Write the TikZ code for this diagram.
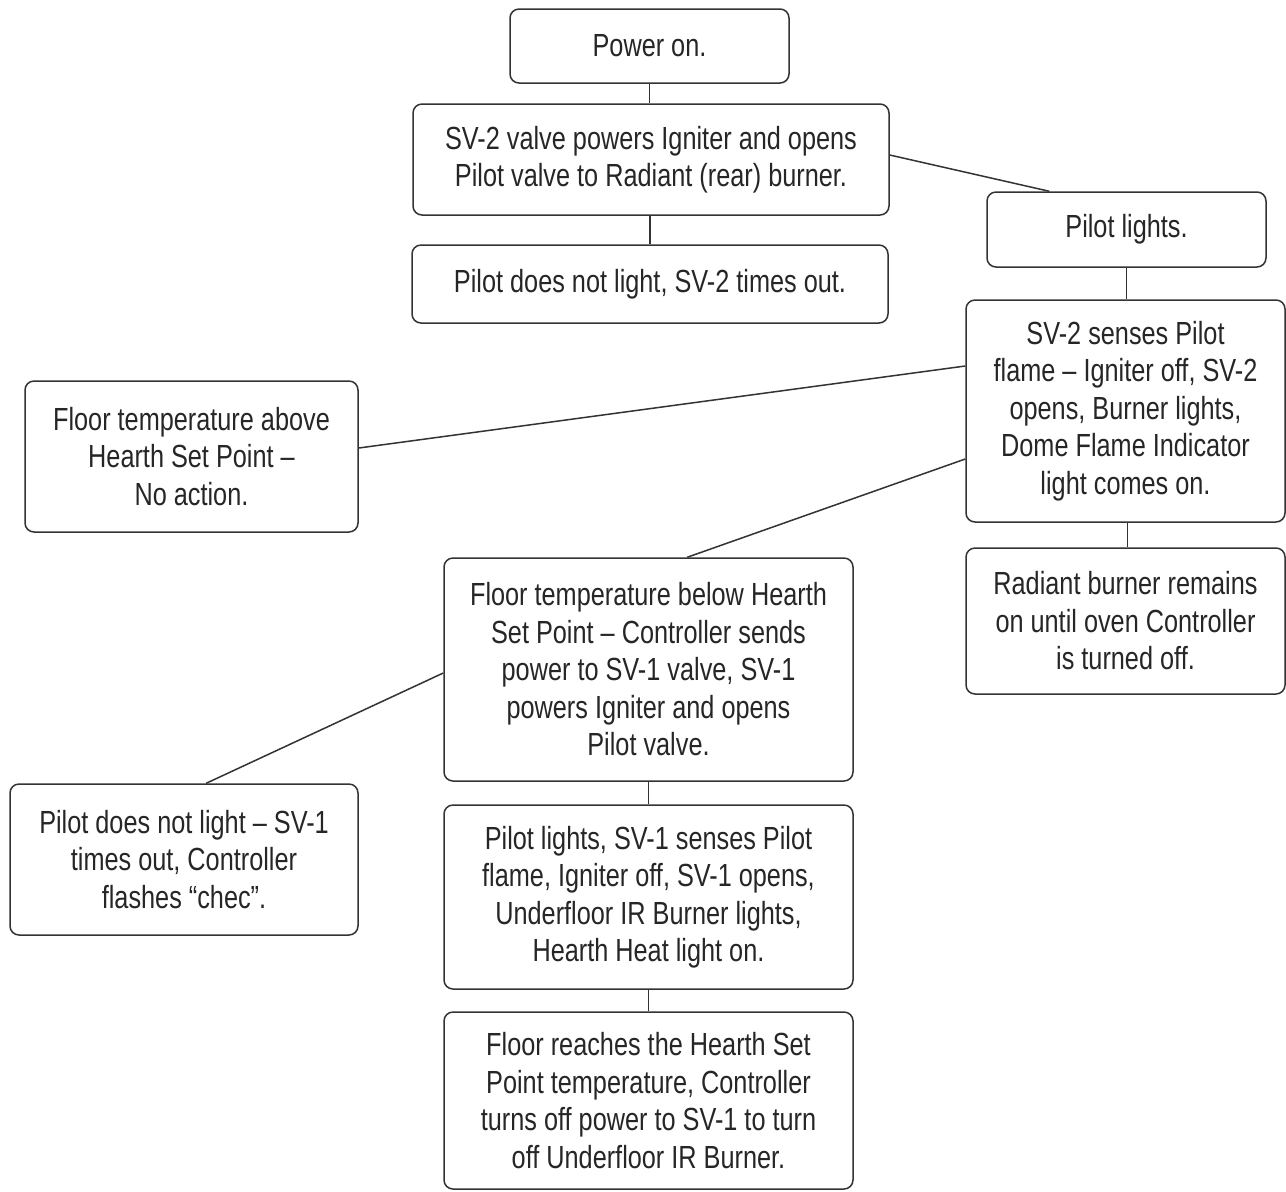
\documentclass[tikz,border=0pt]{standalone}
\usepackage{fontspec}
\setmainfont[FakeStretch=0.79]{Liberation Sans}
\begin{document}
\begin{tikzpicture}[x=0.5pt,y=-0.5pt,
  box/.style={draw=linec, line width=0.75pt, rounded corners=4.5pt, align=center,
    text=textc, font=\fontsize{16pt}{18.75pt}\selectfont, inner sep=0pt},
  conn/.style={draw=linec, line width=0.75pt}]
\definecolor{linec}{HTML}{333333}
\definecolor{textc}{HTML}{262626}
\useasboundingbox[fill=white] (0,0) rectangle (1286,1191);

\node[box, minimum width=139.5pt, minimum height=37pt] (power) at (649.5,46) {Power on.};
\node[box, minimum width=238pt, minimum height=55.5pt] (sv2) at (651,159.5)
  {SV-2 valve powers Igniter and opens\\Pilot valve to Radiant (rear) burner.};
\node[box, minimum width=238pt, minimum height=39pt] (nolight2) at (650,284)
  {Pilot does not light, SV-2 times out.};
\node[box, minimum width=139.5pt, minimum height=37.5pt] (pilot) at (1126.5,229.5) {Pilot lights.};
\node[box, minimum width=159.5pt, minimum height=111pt] (senses) at (1125.5,411)
  {SV-2 senses Pilot\\flame -- Igniter off, SV-2\\opens, Burner lights,\\Dome Flame Indicator\\light comes on.};
\node[box, minimum width=159.5pt, minimum height=73pt] (radiant) at (1125.5,621)
  {Radiant burner remains\\on until oven Controller\\is turned off.};
\node[box, minimum width=166.5pt, minimum height=75.5pt] (above) at (191.5,456.5)
  {Floor temperature above\\Hearth Set Point --\\No action.};
\node[box, minimum width=204.5pt, minimum height=111.5pt] (below) at (648.5,669.5)
  {Floor temperature below Hearth\\Set Point -- Controller sends\\power to SV-1 valve, SV-1\\powers Igniter and opens\\Pilot valve.};
\node[box, minimum width=174pt, minimum height=75.5pt] (nolight1) at (184,859.5)
  {Pilot does not light -- SV-1\\times out, Controller\\flashes “chec”.};
\node[box, minimum width=204.5pt, minimum height=92pt] (sv1) at (648.5,897)
  {Pilot lights, SV-1 senses Pilot\\flame, Igniter off, SV-1 opens,\\Underfloor IR Burner lights,\\Hearth Heat light on.};
\node[box, minimum width=204.5pt, minimum height=88.5pt] (reaches) at (648.5,1100.5)
  {Floor reaches the Hearth Set\\Point temperature, Controller\\turns off power to SV-1 to turn\\off Underfloor IR Burner.};

\draw[conn] (power.south) -- (power.south |- sv2.north);
\draw[conn] ([xshift=-0.5pt]sv2.south) -- ([xshift=-0.5pt]sv2.south |- nolight2.north);
\draw[conn] ([yshift=2.25pt]sv2.east) -- ([xshift=31.5pt]pilot.north west);
\draw[conn] (pilot.south) -- (pilot.south |- senses.north);
\draw[conn] ([yshift=22.5pt]senses.west) -- ([yshift=4.25pt]above.east);
\draw[conn] ([yshift=-24pt]senses.west) -- ([xshift=122pt]below.north west);
\draw[conn] ([xshift=1pt]senses.south) -- ([xshift=1pt]senses.south |- radiant.north);
\draw[conn] ([yshift=-1.75pt]below.west) -- ([xshift=98.5pt]nolight1.north west);
\draw[conn] (below.south) -- (below.south |- sv1.north);
\draw[conn] (sv1.south) -- (sv1.south |- reaches.north);
\end{tikzpicture}
\end{document}
